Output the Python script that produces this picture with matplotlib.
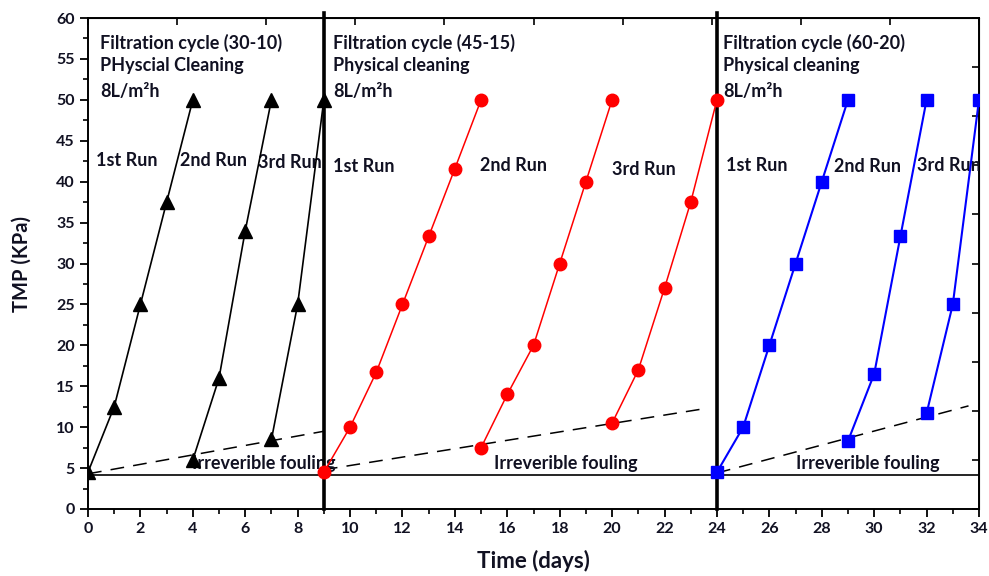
import numpy as np
import matplotlib
matplotlib.use("Agg")
import matplotlib.pyplot as plt
from matplotlib.ticker import MultipleLocator
from matplotlib.patches import Rectangle

plt.rcParams['font.family'] = ['Lato', 'DejaVu Sans']
plt.rcParams['font.weight'] = 'bold'

# Ciclo 1 (30-10): triangulos negros
c1_r1_x = [0, 1, 2, 3, 4];        c1_r1_y = [4.5, 12.5, 25, 37.5, 50]
c1_r2_x = [4, 5, 6, 7];           c1_r2_y = [6, 16, 34, 50]
c1_r3_x = [7, 8, 9];              c1_r3_y = [8.5, 25, 50]

# Ciclo 2 (45-15): circulos rojos
c2_r1_x = [9, 10, 11, 12, 13, 14, 15];  c2_r1_y = [4.5, 10, 16.7, 25, 33.3, 41.6, 50]
c2_r2_x = [15, 16, 17, 18, 19, 20];     c2_r2_y = [7.5, 14, 20, 30, 40, 50]
c2_r3_x = [20, 21, 22, 23, 24];         c2_r3_y = [10.5, 17, 27, 37.5, 50]

# Ciclo 3 (60-20): cuadrados azules
c3_r1_x = [24, 25, 26, 27, 28, 29];  c3_r1_y = [4.5, 10, 20, 30, 40, 50]
c3_r2_x = [29, 30, 31, 32];          c3_r2_y = [8.3, 16.5, 33.3, 50]
c3_r3_x = [32, 33, 34];              c3_r3_y = [11.7, 25, 50]

# Lineas de ensuciamiento irreversible (discontinuas)
foul_x = [[0, 9], [9, 23.6], [24, 33.6]]
foul_y = [[4.3, 9.5], [4.8, 12.3], [4.4, 12.6]]
base_level = 4.2
dividers = [9, 24]

titles = ["Filtration cycle (30-10)", "Filtration cycle (45-15)", "Filtration cycle (60-20)"]
cleanings = ["PHyscial Cleaning", "Physical cleaning", "Physical cleaning"]
title_x = [0.45, 9.35, 24.25]
run_x = [[0.3, 3.5, 6.5], [9.35, 14.95, 20.0], [24.35, 28.45, 31.65]]
run_y = [[42.6, 42.6, 42.4], [41.8, 42.0, 41.5], [42.0, 41.8, 42.0]]
fouling_x = [3.95, 15.5, 27.0]

fig = plt.figure(figsize=(9.89, 5.76), dpi=100)
ax = fig.add_axes([88/989, 1 - 509/576, (979 - 88)/989, (509 - 18)/576])

tc = '#111122'
fs = 13

# Graficamos las series
for xs, ys in [(c1_r1_x, c1_r1_y), (c1_r2_x, c1_r2_y), (c1_r3_x, c1_r3_y)]:
    ax.plot(xs, ys, color='black', lw=1.2, marker='^', markersize=9.5, zorder=5)
for xs, ys in [(c2_r1_x, c2_r1_y), (c2_r2_x, c2_r2_y), (c2_r3_x, c2_r3_y)]:
    ax.plot(xs, ys, color='red', lw=1.1, marker='o', markersize=9, zorder=5)
for xs, ys in [(c3_r1_x, c3_r1_y), (c3_r2_x, c3_r2_y), (c3_r3_x, c3_r3_y)]:
    ax.plot(xs, ys, color='blue', lw=1.5, marker='s', markersize=8.5, zorder=5)

for xs, ys in zip(foul_x, foul_y):
    ax.plot(xs, ys, color='black', lw=1.1, dashes=(9, 6), zorder=3)

ax.axhline(base_level, color='black', lw=1.2, zorder=2)
for d in dividers:
    ax.axvline(d, ymin=0, ymax=1.01, color='black', lw=2.6, zorder=4, clip_on=False)

# Textos
for i in range(3):
    ax.text(title_x[i], 57.0, titles[i], fontsize=fs, color=tc, va='center')
    ax.text(title_x[i], 54.2, cleanings[i], fontsize=fs, color=tc, va='center')
    ax.text(title_x[i], 51.0, "8L/m²h", fontsize=fs, color=tc, va='center')
    for j, lab in enumerate(["1st Run", "2nd Run", "3rd Run"]):
        t = ax.text(run_x[i][j], run_y[i][j], lab, fontsize=fs, color=tc, va='center', zorder=3)
        if i == 0 and j == 2:
            clip = Rectangle((0, 0), 9, 60, transform=ax.transData)
            t.set_clip_path(clip)
        else:
            t.set_clip_on(True)
    ax.text(fouling_x[i], 5.6, "Irreverible fouling", fontsize=fs, color=tc, va='center', zorder=3)

ax.set_xlim(0, 34)
ax.set_ylim(0, 60)
ax.xaxis.set_major_locator(MultipleLocator(2))
ax.xaxis.set_minor_locator(MultipleLocator(1))
ax.yaxis.set_major_locator(MultipleLocator(5))
ax.yaxis.set_minor_locator(MultipleLocator(2.5))
ax.tick_params(which='major', direction='out', length=6, width=1.3, labelsize=11.5, labelcolor=tc)
ax.tick_params(which='minor', direction='out', length=3.5, width=1.2)
for lab in ax.get_xticklabels() + ax.get_yticklabels():
    lab.set_fontweight('bold')
for s in ax.spines.values():
    s.set_linewidth(1.4)

# Ejes secundarios (solo marcas)
top = ax.secondary_xaxis('top')
top.set_xticks(np.linspace(0, 34, 11))
top.tick_params(direction='in', length=5, width=1.2, labeltop=False)
right = ax.secondary_yaxis('right')
right.set_yticks(np.linspace(0, 60, 11))
right.tick_params(direction='in', length=5, width=1.2, labelright=False)

ax.set_xlabel('Time (days)', fontsize=16, fontweight='bold', color=tc, labelpad=10)
ax.set_ylabel('TMP (KPa)', fontsize=14.5, fontweight='bold', color=tc, labelpad=18)

fig.savefig('out.png', dpi=100)
